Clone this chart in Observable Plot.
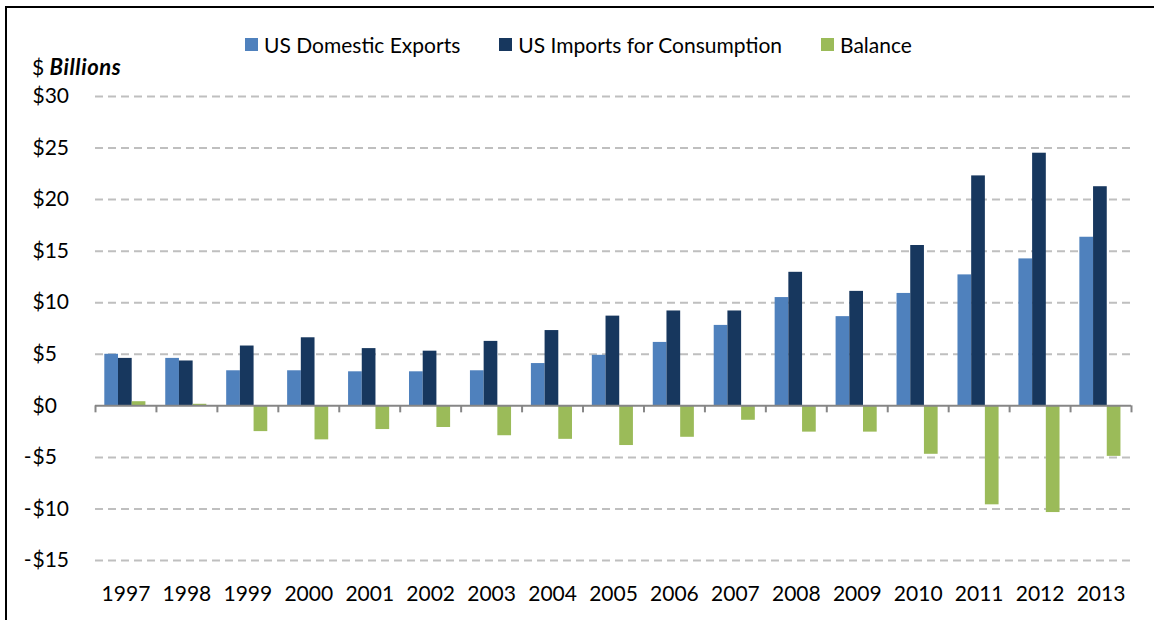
<!DOCTYPE html>
<html>
<head>
<meta charset="utf-8">
<script src="https://cdn.jsdelivr.net/npm/d3@7"></script>
<script src="https://cdn.jsdelivr.net/npm/@observablehq/plot@0.6"></script>
<style>
  html, body { margin: 0; padding: 0; background: #fff; overflow: hidden; }
  body { width: 1154px; height: 620px; position: relative; font-family: Lato, "Noto Sans", sans-serif; color: #000; }
  #frame { position: absolute; left: 5px; top: 6px; width: 1300px; height: 800px; border-left: 2px solid #000; border-top: 2px solid #000; pointer-events: none; }
  #legend { position: absolute; left: 245px; top: 0; height: 58px; display: flex; align-items: center; gap: 39px; font-size: 21px; padding-top: 30px; box-sizing: border-box; }
  #legend .item { display: flex; align-items: center; gap: 6px; white-space: nowrap; }
  #legend .sw { width: 13px; height: 13px; display: inline-block; }
  #unit { position: absolute; left: 32px; top: 54px; font-size: 21px; line-height: 26px; white-space: nowrap; }
  #unit b { font-style: italic; font-weight: 700; font-size: 22px; letter-spacing: 0.6px; }
  #chart { position: absolute; left: 0; top: 58px; }
</style>
</head>
<body>
<div id="legend"></div>
<div id="unit">$ <b>Billions</b></div>
<div id="chart"></div>
<div id="frame"></div>
<script>
const years = ["1997","1998","1999","2000","2001","2002","2003","2004","2005","2006","2007","2008","2009","2010","2011","2012","2013"];
const exportsVals = [5.0, 4.6, 3.4, 3.4, 3.3, 3.3, 3.4, 4.1, 4.9, 6.15, 7.8, 10.5, 8.65, 10.9, 12.7, 14.25, 16.35];
const importsVals = [4.6, 4.35, 5.8, 6.6, 5.55, 5.3, 6.25, 7.3, 8.7, 9.2, 9.2, 12.95, 11.1, 15.55, 22.3, 24.5, 21.25];
const balanceVals = [0.4, 0.15, -2.5, -3.3, -2.3, -2.1, -2.9, -3.25, -3.85, -3.05, -1.4, -2.55, -2.55, -4.7, -9.6, -10.35, -4.9];
const seriesNames = ["US Domestic Exports", "US Imports for Consumption", "Balance"];
const seriesColors = ["#4F81BD", "#17375E", "#9BBB59"];
const yTicks = [30, 25, 20, 15, 10, 5, 0, -5, -10, -15];

// legend
const legend = document.getElementById("legend");
seriesNames.forEach((n, i) => {
  const it = document.createElement("span");
  it.className = "item";
  it.innerHTML = `<span class="sw" style="background:${seriesColors[i]}"></span><span>${n}</span>`;
  legend.appendChild(it);
});

const W = 1154, H = 562;
const mL = 95, mR = 23, mT = 38, mB = 60;
const bw = (W - mL - mR) / years.length;
const barW = 13.7, start = 9.3;
const ins = k => ({insetLeft: start + k * barW, insetRight: bw - start - (k + 1) * barW});

const rows = k => years.map((y, i) => ({year: y, value: [exportsVals, importsVals, balanceVals][k][i]}));

const font = 'Lato, "Noto Sans", sans-serif';

const chart = Plot.plot({
  width: W,
  height: H,
  marginLeft: mL,
  marginRight: mR,
  marginTop: mT,
  marginBottom: mB,
  style: {fontFamily: font, fontSize: "21px", color: "#000", background: "transparent", overflow: "visible"},
  x: {type: "band", domain: years, padding: 0, round: false, axis: null},
  y: {domain: [-15, 30], axis: null},
  marks: [
    Plot.ruleY(yTicks.filter(d => d !== 0), {y: d => d, stroke: "#BFBFBF", strokeWidth: 2, strokeDasharray: "8,5"}),
    Plot.barY(rows(0), {x: "year", y: "value", fill: seriesColors[0], ...ins(0)}),
    Plot.barY(rows(1), {x: "year", y: "value", fill: seriesColors[1], ...ins(1)}),
    Plot.barY(rows(2), {x: "year", y: "value", fill: seriesColors[2], ...ins(2)}),
    Plot.ruleY([0], {stroke: "#868686", strokeWidth: 2}),
    Plot.ruleX(years, {x: d => d, y1: 0, y2: 0, insetBottom: -7, dx: -bw / 2, stroke: "#868686", strokeWidth: 2}),
    Plot.ruleX([years[years.length - 1]], {x: d => d, y1: 0, y2: 0, insetBottom: -7, dx: bw / 2, stroke: "#868686", strokeWidth: 2}),
    Plot.text(yTicks, {y: d => d, text: d => "$" + Math.abs(d), frameAnchor: "left", textAnchor: "start", dx: -63, fill: "#000"}),
    Plot.text(yTicks.filter(d => d < 0), {y: d => d, text: d => "-", frameAnchor: "left", textAnchor: "end", dx: -64, fill: "#000"}),
    Plot.text(years, {x: d => d, frameAnchor: "bottom", text: d => d, dy: 40, fill: "#000"})
  ]
});
document.getElementById("chart").appendChild(chart);
</script>
</body>
</html>
